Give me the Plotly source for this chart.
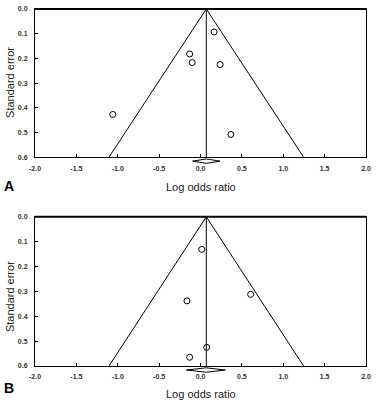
import plotly.graph_objects as go
from plotly.subplots import make_subplots

# Panel A data
a_log_or = [0.164, -0.131, -0.100, 0.237, 0.367, -1.06]
a_se = [0.093, 0.182, 0.217, 0.225, 0.508, 0.427]
a_pooled = 0.07
a_ci = [-0.095, 0.237]

# Panel B data
b_log_or = [0.015, 0.606, -0.164, 0.075, -0.131]
b_se = [0.131, 0.312, 0.338, 0.525, 0.565]
b_pooled = 0.07
b_ci = [-0.17, 0.30]

z = 1.96
se_max = 0.6
x_ticks = [-2.0, -1.5, -1.0, -0.5, 0.0, 0.5, 1.0, 1.5, 2.0]
y_ticks = [0.0, 0.1, 0.2, 0.3, 0.4, 0.5, 0.6]

fig = make_subplots(rows=2, cols=1, vertical_spacing=0.167)

panels = [(a_log_or, a_se, a_pooled, a_ci), (b_log_or, b_se, b_pooled, b_ci)]
for i, (xs, ses, pooled, ci) in enumerate(panels, start=1):
    # funnel
    fig.add_trace(go.Scatter(
        x=[pooled - z * se_max, pooled, pooled + z * se_max],
        y=[se_max, 0, se_max], mode="lines",
        line=dict(color="black", width=1), hoverinfo="skip", showlegend=False),
        row=i, col=1)
    # vertical line at pooled estimate
    fig.add_trace(go.Scatter(
        x=[pooled, pooled], y=[0, se_max], mode="lines",
        line=dict(color="black", width=1), hoverinfo="skip", showlegend=False),
        row=i, col=1)
    # study points
    fig.add_trace(go.Scatter(
        x=xs, y=ses, mode="markers",
        marker=dict(symbol="circle-open", size=6, color="black",
                    line=dict(width=1, color="black")),
        showlegend=False), row=i, col=1)

tick_font = dict(family="Liberation Sans", size=7, color="#333", weight="bold")
fig.update_xaxes(range=[-2, 2], tickvals=x_ticks, ticktext=[f"{v:.1f}" for v in x_ticks],
                 showline=True, linecolor="black", linewidth=1, mirror=True,
                 ticks="inside", ticklen=3, tickcolor="black", showgrid=False, zeroline=False,
                 tickfont=tick_font, ticklabelstandoff=4, automargin=False)
fig.update_yaxes(range=[0.6, 0], tickvals=y_ticks, ticktext=[f"{v:.1f}" for v in y_ticks],
                 showline=True, linecolor="black", linewidth=1, mirror=True,
                 ticks="inside", ticklen=3, tickcolor="black", showgrid=False, zeroline=False,
                 tickfont=tick_font, ticklabelstandoff=5, automargin=False)

# diamonds and top border
diamond_offsets = [0.585 - 4 / 357, 0.0 - 4 / 357]
half_h = 2.2 / 357
for (xs, ses, pooled, ci), yc, xr, yr in zip(panels, diamond_offsets, ["x", "x2"], ["y", "y2"]):
    path = (f"M {ci[0]},{yc} L {pooled},{yc + half_h} L {ci[1]},{yc} "
            f"L {pooled},{yc - half_h} Z")
    fig.add_shape(type="path", path=path, xref=xr, yref="paper",
                  line=dict(color="black", width=1), fillcolor="white")
    fig.add_shape(type="line", xref=f"{xr} domain", yref=f"{yr} domain",
                  x0=0, x1=1, y0=1, y1=1, line=dict(color="black", width=2))

title_font = dict(family="Liberation Sans", size=11, color="#222")
ann = [
    dict(text="Log odds ratio", x=0.5, y=0.501),
    dict(text="Log odds ratio", x=0.5, y=-0.078),
    dict(text="Standard error", x=-0.0755, y=0.793, textangle=-90),
    dict(text="Standard error", x=-0.0755, y=0.193, textangle=-90),
]
for a in ann:
    fig.add_annotation(xref="paper", yref="paper", showarrow=False,
                       xanchor="center", yanchor="middle", font=title_font, **a)
for lbl, yy in [("A", 0.504), ("B", -0.0616)]:
    fig.add_annotation(text=f"<b>{lbl}</b>", xref="paper", yref="paper", x=-0.0785, y=yy,
                       showarrow=False, xanchor="center", yanchor="middle",
                       font=dict(family="Liberation Sans", size=14, color="black"))

fig.update_layout(
    width=377, height=403,
    margin=dict(l=35, r=11, t=9, b=37, autoexpand=False),
    plot_bgcolor="white", paper_bgcolor="white",
)
fig.layout.yaxis.domain = [0.585, 1.0]
fig.layout.yaxis2.domain = [0.0, 0.418]

fig.write_html("out.html", config={"displayModeBar": False},
               post_script="document.body.style.margin='0';document.body.style.overflow='hidden';")
